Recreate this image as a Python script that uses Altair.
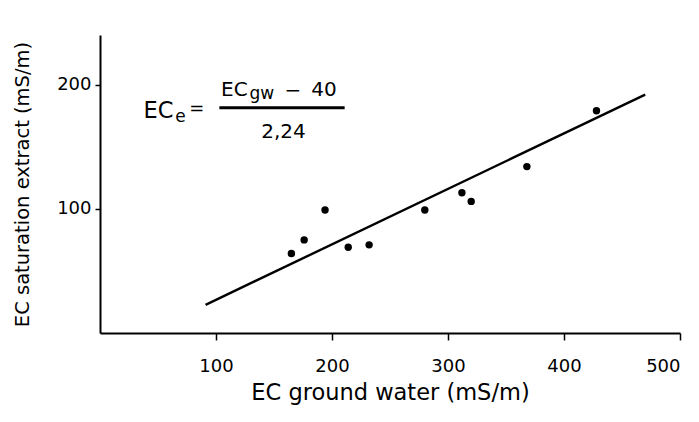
import altair as alt
import pandas as pd

# Data
ec_gw = [165, 176, 194, 214, 232, 280, 312, 320, 368, 428]
ec_e = [64, 75, 99, 69, 71, 99, 113, 106, 134, 179]
line_gw = [91, 470]
line_e = [22.7, 192.0]
x_ticks = [100, 200, 300, 400, 500]
y_ticks = [100, 200]

# Formula annotation pieces (placed in data units)
ann_text = ["EC", "e", "=", "EC", "gw", "\u2212", "40", "2,24"]
ann_x = [37.5, 64.9, 83.4, 104.4, 128.8, 166.3, 182.1, 158.2]
ann_y = [173.4, 170.2, 176.0, 190.6, 188.7, 190.3, 190.6, 157.3]
ann_size = [22.5, 17, 18, 20, 17, 20, 20, 20]
ann_align = ["left", "left", "center", "left", "left", "center", "left", "center"]
bar_x = [102.9]
bar_x2 = [210.9]
bar_y = [181.5]

FONT = "DejaVu Sans"

pts = pd.DataFrame({"gw": ec_gw, "e": ec_e})
ln = pd.DataFrame({"gw": line_gw, "e": line_e})
ann = pd.DataFrame({"t": ann_text, "x": ann_x, "y": ann_y})
bar = pd.DataFrame({"x": bar_x, "x2": bar_x2, "y": bar_y})

xs = alt.Scale(domain=[0, 500], nice=False, zero=False)
ys = alt.Scale(domain=[0, 240], nice=False, zero=False)

xax = alt.Axis(values=x_ticks, title="EC ground water (mS/m)", grid=False,
               domainColor="black", domainWidth=2, tickColor="black", tickWidth=1.5,
               tickSize=7, labelFont=FONT, labelFontSize=18, labelColor="black",
               labelPadding=17, titleFont=FONT, titleFontSize=22.5, titleFontWeight="normal",
               titleColor="black", titlePadding=6)
yax = alt.Axis(values=y_ticks, title="EC saturation extract (mS/m)", grid=False,
               domainColor="black", domainWidth=2, tickColor="black", tickWidth=1.5,
               tickSize=5, labelFont=FONT, labelFontSize=18, labelColor="black",
               labelPadding=4, titleFont=FONT, titleFontSize=19.5, titleFontWeight="normal",
               titleColor="black", titlePadding=24)

points = alt.Chart(pts).mark_circle(size=55, color="black", opacity=1).encode(
    x=alt.X("gw:Q", scale=xs, axis=xax),
    y=alt.Y("e:Q", scale=ys, axis=yax),
)

line = alt.Chart(ln).mark_line(color="black", strokeWidth=2.4).encode(
    x=alt.X("gw:Q", scale=xs),
    y=alt.Y("e:Q", scale=ys),
)

texts = []
for i in range(len(ann_text)):
    texts.append(
        alt.Chart(ann.iloc[[i]]).mark_text(
            font=FONT, fontSize=ann_size[i], align=ann_align[i], baseline="alphabetic",
            color="black"
        ).encode(
            x=alt.X("x:Q", scale=xs),
            y=alt.Y("y:Q", scale=ys),
            text="t:N",
        )
    )

frac = alt.Chart(bar).mark_rule(color="black", strokeWidth=3).encode(
    x=alt.X("x:Q", scale=xs),
    x2="x2:Q",
    y=alt.Y("y:Q", scale=ys),
)

chart = alt.layer(line, points, frac, *texts).properties(
    width=580,
    height=298,
    autosize=alt.AutoSizeParams(type="none"),
    padding={"left": 92, "top": 27, "right": 10, "bottom": 80},
    background="white",
).configure_view(stroke=None)

chart.save("out.html", embed_options={"renderer": "svg", "actions": False})
